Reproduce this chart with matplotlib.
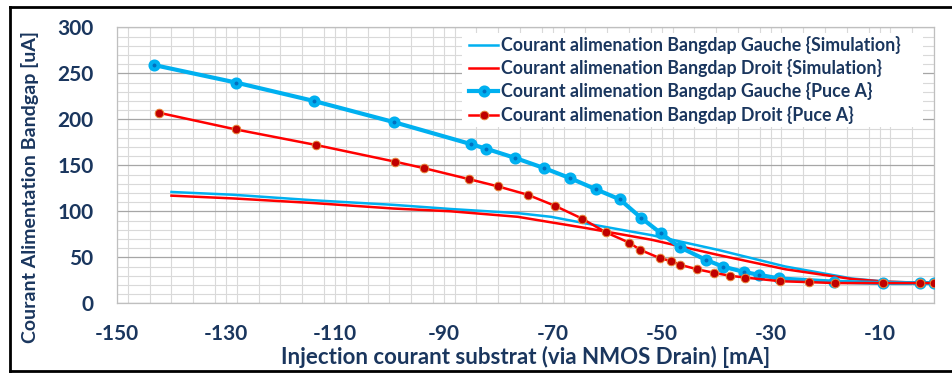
import numpy as np
import matplotlib
matplotlib.use("Agg")
import matplotlib.pyplot as plt
from matplotlib.lines import Line2D
from matplotlib.patches import Rectangle
from matplotlib.ticker import MultipleLocator

# donnees
sim_x = [-140, -128.7, -114, -99.2, -88.7, -76.4, -70.3, -64.1, -51.8, -39.6, -27.3, -15.1, -8.9, 0]
sim_gauche = [121, 118, 112, 107, 102.5, 98, 94, 87, 74, 58, 40, 27, 23.5, 22]
sim_droit = [117, 114, 109, 103, 100, 94, 88, 82, 69, 52.5, 37, 26.4, 23.5, 22]

puce_g_x = [-143.2, -128.2, -113.9, -99.2, -85.0, -82.2, -76.9, -71.6, -66.8, -62.1, -57.7,
            -53.8, -50.1, -46.7, -41.8, -38.8, -34.8, -32.2, -28.4, -18.3, -9.4, -2.5, 0]
puce_g_y = [259, 240, 220, 197, 173, 168, 158, 147, 136, 124, 113,
            93, 76, 61, 47, 40, 34, 31, 27, 23.5, 22, 22, 22]

puce_d_x = [-142.2, -128.2, -113.4, -99.0, -93.7, -85.4, -80.0, -74.6, -69.6, -64.6, -60.2, -56.0,
            -53.9, -50.3, -48.3, -46.7, -43.5, -40.3, -37.5, -34.7, -28.2, -22.9, -18.2, -9.4, -2.5, 0]
puce_d_y = [207, 189, 172, 154, 147, 135, 127, 118, 106, 92, 77, 66,
            58, 49, 46, 42, 37, 33, 30, 28, 24, 23, 22, 22, 22, 22]

labels = ["Courant alimenation Bangdap Gauche {Simulation}",
          "Courant alimenation Bangdap Droit {Simulation}",
          "Courant alimenation Bangdap Gauche {Puce A}",
          "Courant alimenation Bangdap Droit {Puce A}"]

x_ticks = [-150, -130, -110, -90, -70, -50, -30, -10]
y_ticks = [0, 50, 100, 150, 200, 250, 300]

navy = "#1a365e"
cyan = "#00B0F0"
rouge = "#FF0000"

plt.rcParams['font.family'] = ['Lato', 'DejaVu Sans']
plt.rcParams['font.weight'] = 'bold'
plt.rcParams['axes.unicode_minus'] = False

fig = plt.figure(figsize=(9.52, 3.74), dpi=100)
ax = fig.add_axes([117/952, 1 - 303.3/374, (934-117)/952, (303.3-27.3)/374])

ax.plot(sim_x, sim_gauche, color=cyan, lw=1.8, label=labels[0], zorder=3)
ax.plot(sim_x, sim_droit, color=rouge, lw=1.8, label=labels[1], zorder=3)
ax.plot(puce_g_x, puce_g_y, color=cyan, lw=3.0, marker='o', markersize=5.8,
        markerfacecolor="#0070C0", markeredgecolor=cyan, markeredgewidth=2.9,
        label=labels[2], zorder=4)
ax.plot(puce_d_x, puce_d_y, color=rouge, lw=1.8, marker='o', markersize=6.2,
        markerfacecolor="#C00000", markeredgecolor="#E8863A", markeredgewidth=0.7,
        label=labels[3], zorder=5)

ax.set_xlim(-150, 0)
ax.set_ylim(0, 300)
ax.set_xticks(x_ticks)
ax.set_xticklabels([str(v) for v in x_ticks], fontweight='bold')
ax.set_yticks(y_ticks)
ax.set_yticklabels([str(v) for v in y_ticks], fontweight='bold')
ax.xaxis.set_minor_locator(MultipleLocator(4))
ax.yaxis.set_minor_locator(MultipleLocator(10))

ax.grid(True, which='minor', color="#d9d9d9", lw=0.8)
ax.grid(True, which='major', axis='y', color="#a6a6a6", lw=0.9)
ax.grid(True, which='major', axis='x', color="#d9d9d9", lw=0.8)
ax.set_axisbelow(True)
for s in ax.spines.values():
    s.set_color("#bfbfbf")
    s.set_linewidth(0.9)

ax.tick_params(which='both', length=0, labelsize=15, labelcolor=navy)
ax.tick_params(axis='x', pad=15)
ax.tick_params(axis='y', pad=17)

ax.set_xlabel("Injection courant substrat (via NMOS Drain) [mA]", fontsize=16,
              fontweight='bold', color=navy, labelpad=1)
ax.set_ylabel("Courant Alimentation Bandgap [uA]", fontsize=14,
              fontweight='bold', color=navy)
ax.yaxis.set_label_coords(-0.095, 0.42)

# fond blanc de la legende (cache la grille)
ax.add_patch(Rectangle((0.422, 0.639), 0.5645, 0.34, transform=ax.transAxes,
                       facecolor='white', edgecolor='none', zorder=2))

leg = ax.legend(loc='upper left', bbox_to_anchor=(0.427, 0.982), fontsize=12.8,
                frameon=False, handlelength=1.6, handletextpad=0.15, labelspacing=0.3,
                borderpad=0.2, borderaxespad=0)
for t in leg.get_texts():
    t.set_color(navy)
    t.set_fontweight('bold')

# cadre autour de la figure
fig.add_artist(Line2D([10/952, 1], [1 - 7/374, 1 - 7/374], color='black', lw=2, transform=fig.transFigure))
fig.add_artist(Line2D([10/952, 10/952], [1 - 7/374, 1 - 371/374], color='black', lw=2, transform=fig.transFigure))
fig.add_artist(Line2D([10/952, 1], [1 - 371/374, 1 - 371/374], color='black', lw=2, transform=fig.transFigure))

fig.savefig("out.png", dpi=100)
